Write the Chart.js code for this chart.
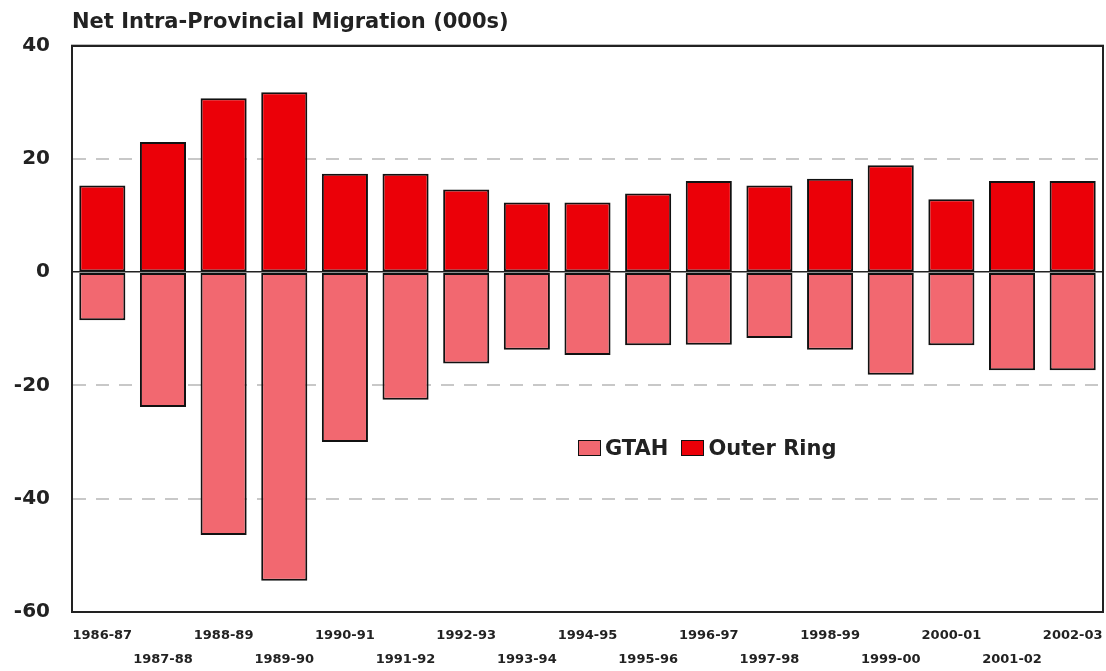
<!DOCTYPE html>
<html>
<head>
<meta charset="utf-8">
<title>Net Intra-Provincial Migration</title>
<script src="https://cdn.jsdelivr.net/npm/chart.js@4.4.0/dist/chart.umd.min.js"></script>
<style>
  html, body { margin: 0; padding: 0; background: #fff; }
  #wrap { position: relative; width: 1106px; height: 671px; }
  #legend {
    position: absolute; left: 578px; top: 436px;
    font: bold 21px "DejaVu Sans", sans-serif; color: #222;
    display: flex; align-items: center;
  }
  #legend .sw { width: 21px; height: 14px; border: 1.5px solid #111; margin-right: 4px; }
  #legend .item { display: flex; align-items: center; margin-right: 13px; }
</style>
</head>
<body>
<div id="wrap">
  <canvas id="migChart"></canvas>
  <div id="legend"></div>
</div>
<script>
// data (thousands)
const periods = ['1986-87', '1987-88', '1988-89', '1989-90', '1990-91', '1991-92', '1992-93',
  '1993-94', '1994-95', '1995-96', '1996-97', '1997-98', '1998-99', '1999-00', '2000-01',
  '2001-02', '2002-03'];
const gtah = [-8.5, -23.8, -46.4, -54.5, -30.0, -22.5, -16.1, -13.7, -14.6, -12.9, -12.8,
  -11.6, -13.7, -18.1, -12.9, -17.3, -17.3];
const outerRing = [15.3, 23.0, 30.7, 31.8, 17.4, 17.4, 14.6, 12.3, 12.3, 13.9, 16.1,
  15.3, 16.5, 18.9, 12.9, 16.1, 16.1];
const yTicks = [40, 20, 0, -20, -40, -60];

const GTAH_COLOR = '#f26870';
const OUTER_COLOR = '#eb0008';
const FONT = '"DejaVu Sans", sans-serif';

// frame round the plot area
const framePlugin = {
  id: 'frame',
  afterDatasetsDraw(chart) {
    const { ctx, chartArea: a } = chart;
    ctx.save();
    ctx.strokeStyle = '#222';
    ctx.lineWidth = 2;
    ctx.strokeRect(a.left, a.top, a.right - a.left, a.bottom - a.top);
    ctx.restore();
  }
};

const ctx = document.getElementById('migChart').getContext('2d');
const chart = new Chart(ctx, {
  type: 'bar',
  data: {
    labels: periods,
    datasets: [
      { label: 'GTAH', data: gtah, backgroundColor: GTAH_COLOR },
      { label: 'Outer Ring', data: outerRing, backgroundColor: OUTER_COLOR }
    ]
  },
  options: {
    responsive: true,
    maintainAspectRatio: false,
    animation: false,
    layout: { padding: { left: 0, right: 3, top: 0, bottom: 0 } },
    datasets: {
      bar: {
        borderColor: '#111',
        borderWidth: 2,
        borderSkipped: false,
        barPercentage: 0.76,
        categoryPercentage: 1
      }
    },
    plugins: {
      legend: { display: false },
      tooltip: { enabled: false },
      title: {
        display: true,
        text: 'Net Intra-Provincial Migration (000s)',
        align: 'start',
        fullSize: false,
        color: '#222',
        font: { family: FONT, size: 21, weight: 'bold', lineHeight: 1.2 },
        padding: { top: 10, bottom: 10.5 }
      }
    },
    scales: {
      x: {
        stacked: true,
        grid: { display: false, drawTicks: false },
        border: { display: false },
        afterFit: (s) => { s.height = 59; s.paddingLeft = 0; s.paddingRight = 0; },
        ticks: {
          autoSkip: false,
          maxRotation: 0,
          padding: 12,
          color: '#222',
          font: { family: FONT, size: 13, weight: 'bold', lineHeight: 1.85 },
          // alternate labels between two rows
          callback: (v, i) => i % 2 === 0 ? [periods[i]] : ['', periods[i]]
        }
      },
      y: {
        stacked: true,
        min: -60,
        max: 40,
        afterFit: (s) => { s.width = 72; },
        afterBuildTicks: (s) => { s.ticks = yTicks.map(v => ({ value: v })); },
        ticks: {
          padding: 22,
          color: '#222',
          font: { family: FONT, size: 20, weight: 'bold' }
        },
        grid: {
          drawTicks: false,
          color: (c) => c.tick && [20, -20, -40].includes(c.tick.value) ? '#c8c8c8' : '#222',
          lineWidth: (c) => c.tick && c.tick.value === 0 ? 1.5 : 2
        },
        border: {
          display: true,
          color: '#222',
          width: 2,
          dash: (c) => (c.tick && [20, -20, -40].includes(c.tick.value)) ? [13, 10] : []
        }
      }
    }
  },
  plugins: [framePlugin]
});

// HTML legend built from the chart's datasets
const legendEl = document.getElementById('legend');
chart.data.datasets.forEach(ds => {
  const item = document.createElement('div');
  item.className = 'item';
  item.innerHTML = `<span class="sw" style="background:${ds.backgroundColor}"></span>${ds.label}`;
  legendEl.appendChild(item);
});
</script>
</body>
</html>
